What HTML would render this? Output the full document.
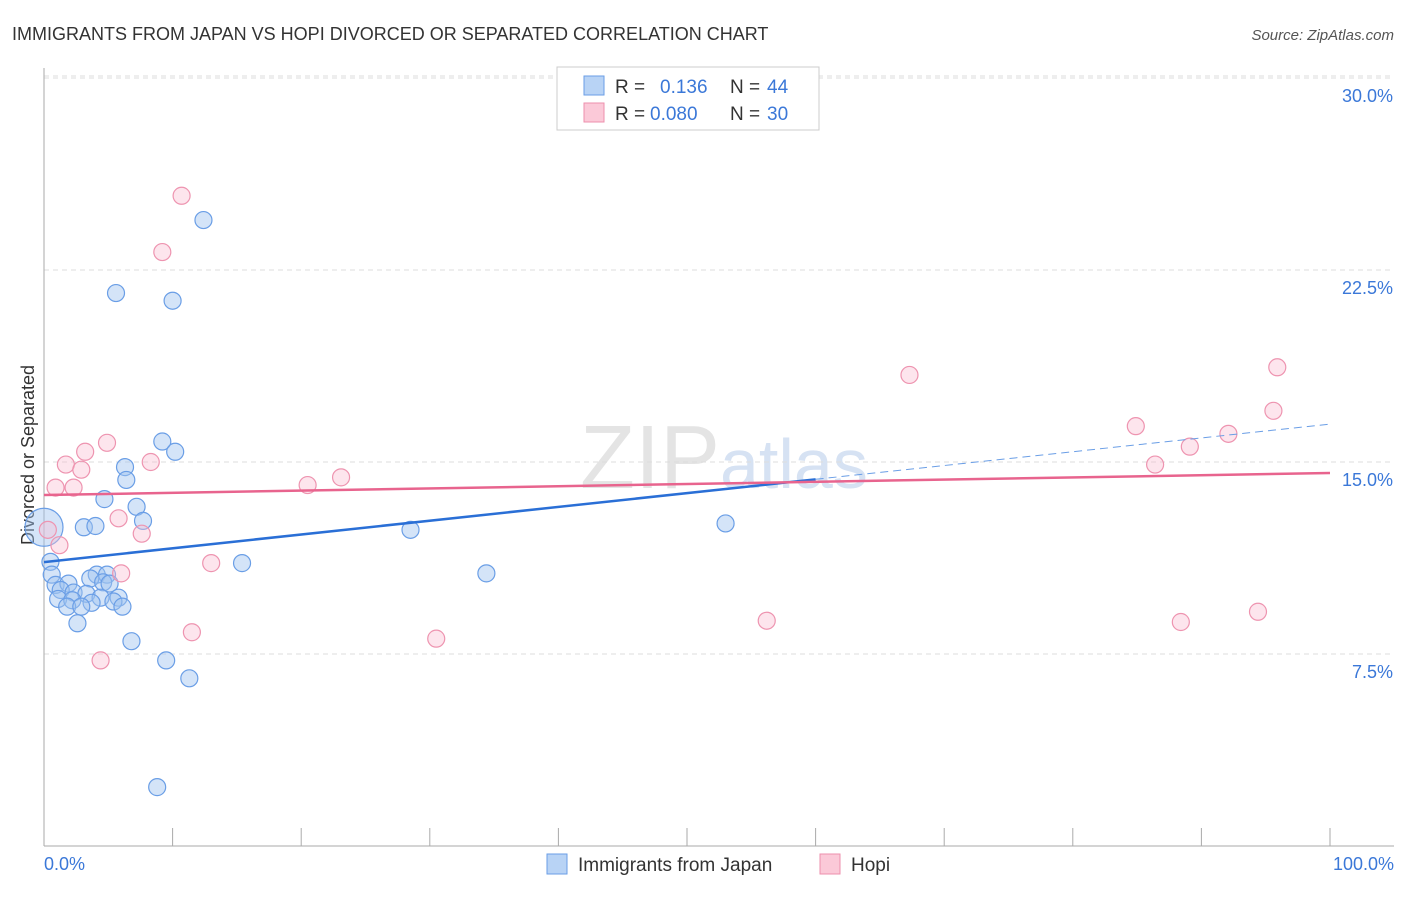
<!DOCTYPE html>
<html><head><meta charset="utf-8"><style>
body{margin:0;background:#fff;font-family:"Liberation Sans",sans-serif}
svg text{font-family:"Liberation Sans",sans-serif}
</style></head><body>
<svg width="1406" height="892" id="c">
<text x="12" y="40" font-size="18" fill="#333">IMMIGRANTS FROM JAPAN VS HOPI DIVORCED OR SEPARATED CORRELATION CHART</text>
<text x="1394" y="40" font-size="15" fill="#555" font-style="italic" text-anchor="end">Source: ZipAtlas.com</text>
<text x="0" y="0" transform="translate(34,455) rotate(-90)" font-size="18" fill="#333" text-anchor="middle">Divorced or Separated</text>
<text x="720" y="488" font-size="90" fill="#e4e4e4" text-anchor="end" font-family="Liberation Serif">ZIP</text>
<text x="720" y="488" font-size="70" fill="#d6e2f3">atlas</text>
<g id="grid"></g><g id="axes"></g><g id="pts"></g><g id="lines"></g>
<g>
<rect x="557" y="67" width="262" height="63" fill="#fff" stroke="#ccc"/>
<rect x="584" y="76" width="20" height="19" fill="#b8d3f5" stroke="#6a9ee6"/>
<text x="615" y="93" font-size="19" fill="#333">R = </text><text x="660" y="93" font-size="19" fill="#3b78d8">0.136</text>
<text x="730" y="93" font-size="19" fill="#333">N = </text><text x="767" y="93" font-size="19" fill="#3b78d8">44</text>
<rect x="584" y="103" width="20" height="19" fill="#fbc9d8" stroke="#ee8fac"/>
<text x="615" y="120" font-size="19" fill="#333">R = </text><text x="650" y="120" font-size="19" fill="#3b78d8">0.080</text>
<text x="730" y="120" font-size="19" fill="#333">N = </text><text x="767" y="120" font-size="19" fill="#3b78d8">30</text>
</g>
<g>
<rect x="547" y="854" width="20" height="20" fill="#b8d3f5" stroke="#6a9ee6"/>
<text x="578" y="871" font-size="19" fill="#333">Immigrants from Japan</text>
<rect x="820" y="854" width="20" height="20" fill="#fbc9d8" stroke="#ee8fac"/>
<text x="851" y="871" font-size="19" fill="#333">Hopi</text>
</g>
</svg>
<script>
const yTicks=[7.5,15,22.5,30];
const yTickLabels=["7.5%","15.0%","22.5%","30.0%"];
const xTickCount=10;
const japanX=[12.4,5.6,10.0,9.2,10.2,6.3,6.4,4.7,7.2,7.7,3.1,4.0,28.5,53.0,0.5,15.4,34.4,0.6,4.1,4.9,3.6,4.6,5.1,0.9,1.9,1.3,2.3,3.3,4.4,5.8,1.1,2.2,3.7,5.4,1.8,2.9,6.1,2.6,6.8,9.5,11.3,8.8,0];
const japanY=[24.45,21.6,21.3,15.8,15.4,14.8,14.3,13.55,13.25,12.7,12.45,12.5,12.35,12.6,11.1,11.05,10.65,10.6,10.6,10.6,10.45,10.3,10.25,10.2,10.25,10.0,9.9,9.85,9.7,9.7,9.65,9.6,9.5,9.55,9.35,9.35,9.35,8.7,8.0,7.25,6.55,2.3,12.45];
const hopiX=[10.7,9.2,67.3,95.9,95.6,84.9,92.1,89.1,86.4,4.9,3.2,1.7,8.3,2.9,0.9,2.3,20.5,23.1,5.8,7.6,1.2,0.3,6.0,13.0,11.5,4.4,30.5,56.2,88.4,94.4];
const hopiY=[25.4,23.2,18.4,18.7,17.0,16.4,16.1,15.6,14.9,15.75,15.4,14.9,15.0,14.7,14.0,14.0,14.1,14.4,12.8,12.2,11.75,12.35,10.65,11.05,8.35,7.25,8.1,8.8,8.75,9.15];
const japanTrend=[11.09,16.48];
const hopiTrend=[13.71,14.57];
const X=v=>44+v*12.86, Y=v=>846-v*25.6;
const NS="http://www.w3.org/2000/svg";
function mk(t,a,p){const e=document.createElementNS(NS,t);for(const k in a)e.setAttribute(k,a[k]);document.getElementById(p).appendChild(e);return e;}
yTicks.forEach((t,i)=>{
 const l=mk('line',{x1:44,x2:1394,y1:Y(t),y2:Y(t),stroke:'#ddd','stroke-dasharray':'5,4'},'grid');
 
 
 const tx=mk('text',{x:1393,y:Y(t)+24,'font-size':18,fill:'#3b78d8','text-anchor':'end'},'grid');
 tx.textContent=yTickLabels[i];
 
 
});
let g=mk('line',{x1:44,x2:1394,y1:Y(30)-2,y2:Y(30)-2,stroke:'#ddd','stroke-dasharray':'5,4'},'grid');


let ax=mk('line',{x1:44,x2:44,y1:68,y2:846,stroke:'#aaa'},'axes');


ax=mk('line',{x1:44,x2:1394,y1:846,y2:846,stroke:'#aaa'},'axes');


for(let i=0;i<=xTickCount;i++){
 const tk=mk('line',{x1:X(i*10),x2:X(i*10),y1:828,y2:846,stroke:'#aaa'},'axes');
 
 
}
let xl=mk('text',{x:44,y:870,'font-size':18,fill:'#3b78d8'},'axes');xl.textContent='0.0%';


xl=mk('text',{x:1394,y:870,'font-size':18,fill:'#3b78d8','text-anchor':'end'},'axes');xl.textContent='100.0%';


japanX.forEach((x,i)=>{
 const big=(x===0&&i===japanX.length-1);
 const c=mk('circle',{cx:X(x),cy:Y(japanY[i]),r:big?19:8.5,fill:'rgba(160,195,240,0.45)',stroke:'#6a9ee6','stroke-width':1.2},'pts');
 
 
});
hopiX.forEach((x,i)=>{
 const c=mk('circle',{cx:X(x),cy:Y(hopiY[i]),r:8.5,fill:'rgba(250,190,210,0.4)',stroke:'#ee94b0','stroke-width':1.2},'pts');
 
 
});
const jy=x=>japanTrend[0]+(japanTrend[1]-japanTrend[0])*x/100;
let l=mk('line',{x1:X(0),y1:Y(jy(0)),x2:X(60),y2:Y(jy(60)),stroke:'#2a6fd6','stroke-width':2.5},'lines');


l=mk('line',{x1:X(60),y1:Y(jy(60)),x2:X(100),y2:Y(jy(100)),stroke:'#6a9ee6','stroke-width':1,'stroke-dasharray':'8,5'},'lines');


l=mk('line',{x1:X(0),y1:Y(hopiTrend[0]),x2:X(100),y2:Y(hopiTrend[1]),stroke:'#e8648e','stroke-width':2.5},'lines');


</script>
</body></html>
